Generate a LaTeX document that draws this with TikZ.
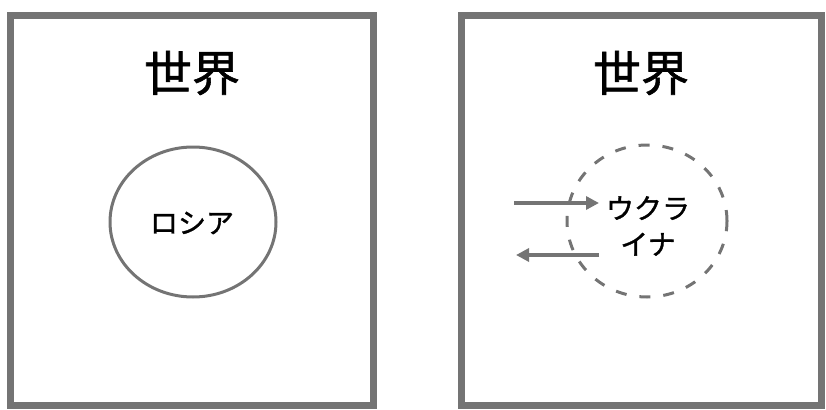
\documentclass[tikz,border=0pt]{standalone}
\usepackage{fontspec}
\newfontfamily\jpfont{Noto Sans CJK JP}[FakeBold=1.2]
\usetikzlibrary{shapes.geometric,arrows.meta}
\definecolor{frame}{HTML}{747474}
\tikzset{
  worldbox/.style={draw=frame, line width=7pt, rectangle, minimum height=390pt, inner sep=0pt},
  title/.style={font=\jpfont\fontsize{48}{52}\selectfont, inner sep=0pt},
  label/.style={font=\jpfont\fontsize{28}{36}\selectfont, inner sep=0pt, align=center},
  country/.style={ellipse, draw=frame, line width=3pt, inner sep=0pt},
  flow/.style={draw=frame, line width=4pt, -{Triangle[length=13pt,width=13pt]}},
}
\begin{document}
\begin{tikzpicture}[x=1pt,y=-1pt]
\useasboundingbox (0,0) rectangle (826,409);
\node[worldbox, minimum width=362.5pt] (w1) at (192,210.5) {};
\node[worldbox, minimum width=360pt] (w2) at (641,210.5) {};
\node[title] (t1) at (192,73) {世界};
\node[title] (t2) at (641,73) {世界};
\node[country, minimum width=166pt, minimum height=150pt] (ru) at (193,222) {};
\node[label] (rut) at (192,223) {ロシア};
\node[country, dashed, dash pattern=on 11pt off 13pt, minimum width=160pt, minimum height=152pt] (ua) at (647,221) {};
\node[label] (uat) at (648,226) {ウクラ\\イナ};
\coordinate (a1s) at (514,203);
\coordinate (a1e) at (599,203);
\coordinate (a2s) at (599,255);
\coordinate (a2e) at (516,255);
\draw[flow] (a1s) -- (a1e);
\draw[flow] (a2s) -- (a2e);
\end{tikzpicture}
\end{document}
